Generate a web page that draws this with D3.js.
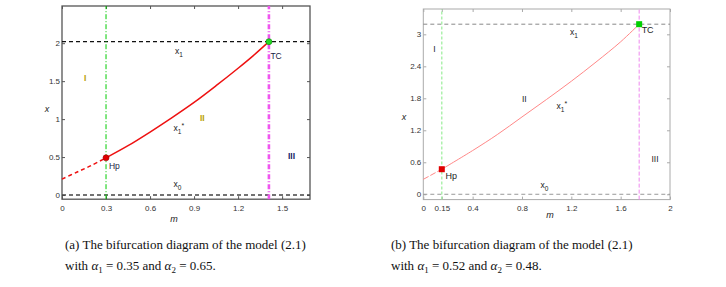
<!DOCTYPE html>
<html>
<head>
<meta charset="utf-8">
<script src="https://cdn.jsdelivr.net/npm/d3@7"></script>
<style>
  body { margin: 0; background: #fff; }
  svg text { font-family: "Liberation Sans", Arial, sans-serif; }
  .cap { font-family: "Liberation Serif", "Times New Roman", serif; font-size: 13px; fill: #111; }
</style>
</head>
<body>
<div id="chart"></div>
<script>
// Panel (a) data
const mA_ticks = [0, 0.3, 0.6, 0.9, 1.2, 1.5];
const xA_ticks = [0, 0.5, 1, 1.5, 2];
const mA_unstable = [0, 0.1, 0.2, 0.3];
const xA_unstable = [0.21, 0.30, 0.39, 0.49];
const mA_stable = [0.3, 0.45, 0.6, 0.75, 0.9, 1.05, 1.2, 1.3, 1.41];
const xA_stable = [0.49, 0.65, 0.83, 1.02, 1.22, 1.44, 1.67, 1.83, 2.02];
const hpA = [0.3, 0.49];
const tcA = [1.41, 2.02];

// Panel (b) data
const mB_ticks = [0, 0.15, 0.4, 0.8, 1.2, 1.6, 2];
const xB_ticks = [0, 0.6, 1.2, 1.8, 2.4, 3];
const mB_unstable = [0, 0.15];
const xB_unstable = [0.28, 0.47];
const mB_stable = [0.15, 0.4, 0.6, 0.8, 1.0, 1.2, 1.4, 1.6, 1.75];
const xB_stable = [0.47, 0.82, 1.12, 1.45, 1.78, 2.12, 2.48, 2.86, 3.19];
const hpB = [0.15, 0.47];
const tcB = [1.75, 3.19];

const W = 726, H = 287;
const svg = d3.select('#chart').append('svg')
    .attr('width', W).attr('height', H);

function drawPanel(cfg) {
    const x = d3.scaleLinear().domain(cfg.xDomain).range(cfg.xRange);
    const y = d3.scaleLinear().domain(cfg.yDomain).range(cfg.yRange);
    const g = svg.append('g');
    const [x0, x1] = cfg.xRange, [y0, y1] = cfg.yRange;

    // frame
    g.append('rect')
        .attr('x', x0).attr('y', y1)
        .attr('width', x1 - x0).attr('height', y0 - y1)
        .attr('fill', 'none')
        .attr('stroke', cfg.frame).attr('stroke-width', cfg.frameW);

    // inward ticks on all sides
    const tl = 3;
    g.append('g').attr('transform', `translate(0,${y0})`)
        .call(d3.axisBottom(x).tickValues(cfg.xTicks).tickSize(-tl).tickPadding(6)
            .tickFormat(d => String(d)))
        .call(a => a.select('.domain').remove());
    g.append('g').attr('transform', `translate(0,${y1})`)
        .call(d3.axisTop(x).tickValues(cfg.xTicks).tickSize(-tl).tickFormat(''))
        .call(a => a.select('.domain').remove());
    g.append('g').attr('transform', `translate(${x0},0)`)
        .call(d3.axisLeft(y).tickValues(cfg.yTicks).tickSize(-tl).tickPadding(2)
            .tickFormat(d => String(d)))
        .call(a => a.select('.domain').remove());
    g.append('g').attr('transform', `translate(${x1},0)`)
        .call(d3.axisRight(y).tickValues(cfg.yTicks).tickSize(-tl).tickFormat(''))
        .call(a => a.select('.domain').remove());
    g.selectAll('.tick line').attr('stroke', cfg.frame);
    g.selectAll('.tick text').attr('font-size', 8).attr('fill', '#333')
        .attr('font-family', '"Liberation Sans", Arial, sans-serif');

    // horizontal equilibria lines
    [[0, cfg.zeroColor, cfg.zeroW], [cfg.tc[1], cfg.topColor, cfg.topW]].forEach(([v, c, w]) => {
        g.append('line')
            .attr('x1', x0).attr('x2', x1)
            .attr('y1', y(v)).attr('y2', y(v))
            .attr('stroke', c).attr('stroke-width', w)
            .attr('stroke-dasharray', '4,3');
    });

    // vertical bifurcation lines
    g.append('line')
        .attr('x1', x(cfg.hp[0])).attr('x2', x(cfg.hp[0]))
        .attr('y1', y0).attr('y2', y1)
        .attr('stroke', cfg.green).attr('stroke-width', cfg.greenW)
        .attr('stroke-dasharray', cfg.greenDash);
    g.append('line')
        .attr('x1', x(cfg.tc[0])).attr('x2', x(cfg.tc[0]))
        .attr('y1', y0).attr('y2', y1)
        .attr('stroke', cfg.magenta).attr('stroke-width', cfg.magentaW)
        .attr('stroke-dasharray', cfg.magentaDash);

    // branch x1*
    const line = d3.line().x(d => x(d[0])).y(d => y(d[1])).curve(d3.curveCatmullRom);
    g.append('path')
        .datum(cfg.mU.map((m, i) => [m, cfg.xU[i]]))
        .attr('d', line).attr('fill', 'none')
        .attr('stroke', cfg.red).attr('stroke-width', cfg.redW)
        .attr('stroke-dasharray', cfg.redDash);
    g.append('path')
        .datum(cfg.mS.map((m, i) => [m, cfg.xS[i]]))
        .attr('d', line).attr('fill', 'none')
        .attr('stroke', cfg.red).attr('stroke-width', cfg.redW);

    // special points
    if (cfg.square) {
        g.append('rect').attr('x', x(cfg.hp[0]) - 3).attr('y', y(cfg.hp[1]) - 3)
            .attr('width', 6).attr('height', 6).attr('fill', '#e00000');
        g.append('rect').attr('x', x(cfg.tc[0]) - 3).attr('y', y(cfg.tc[1]) - 3)
            .attr('width', 6).attr('height', 6).attr('fill', '#00d000');
    } else {
        g.append('circle').attr('cx', x(cfg.hp[0])).attr('cy', y(cfg.hp[1])).attr('r', 3)
            .attr('fill', '#e00000').attr('stroke', '#900').attr('stroke-width', 0.6);
        g.append('circle').attr('cx', x(cfg.tc[0])).attr('cy', y(cfg.tc[1])).attr('r', 3)
            .attr('fill', '#22dd22').attr('stroke', '#080').attr('stroke-width', 0.6);
    }

    // labels
    cfg.labels.forEach(l => {
        const t = g.append('text')
            .attr('x', x(l.m)).attr('y', y(l.v))
            .attr('font-size', l.size || 8.5)
            .attr('fill', l.color || '#222')
            .attr('font-weight', l.bold ? 'bold' : null);
        t.append('tspan').text(l.text);
        if (l.sub) t.append('tspan').attr('dy', 3).attr('font-size', 6.5).text(l.sub);
        if (l.sup) t.append('tspan').attr('dy', -6).attr('font-size', 7).text(l.sup);
    });

    // axis titles
    g.append('text').attr('x', cfg.xTitle[0]).attr('y', cfg.xTitle[1])
        .attr('font-size', 9).attr('font-style', 'italic').attr('fill', '#222')
        .attr('text-anchor', 'middle').text('m');
    g.append('text').attr('x', cfg.yTitle[0]).attr('y', cfg.yTitle[1])
        .attr('font-size', 9).attr('font-style', 'italic').attr('fill', '#222')
        .attr('text-anchor', 'middle').text('x');
}

drawPanel({
    xDomain: [0, 1.69], xRange: [62, 310],
    yDomain: [-0.055, 2.49], yRange: [199.2, 6],
    xTicks: mA_ticks, yTicks: xA_ticks,
    frame: '#555', frameW: 1.3,
    zeroColor: '#444', zeroW: 1.6, topColor: '#111', topW: 1.2,
    green: '#00cc00', greenW: 1, greenDash: '5,2,1,2',
    magenta: '#ee55ee', magentaW: 2.6, magentaDash: '5,2,1,2',
    red: '#ee1111', redW: 1.5, redDash: '4,3',
    mU: mA_unstable, xU: xA_unstable, mS: mA_stable, xS: xA_stable,
    hp: hpA, tc: tcA, square: false,
    labels: [
        {m: 0.77, v: 1.86, text: 'x', sub: '1'},
        {m: 0.15, v: 1.5, text: 'I', color: '#b8a000', bold: true},
        {m: 0.94, v: 0.97, text: 'II', color: '#b8a000', bold: true},
        {m: 1.54, v: 0.47, text: 'III', color: '#1a1a66', bold: true},
        {m: 0.76, v: 0.84, text: 'x', sub: '1', sup: '*'},
        {m: 0.76, v: 0.11, text: 'x', sub: '0'},
        {m: 0.32, v: 0.34, text: 'Hp', color: '#1a1a44'},
        {m: 1.42, v: 1.79, text: 'TC', color: '#1a1a44'}
    ],
    xTitle: [174, 222], yTitle: [47, 112]
});

drawPanel({
    xDomain: [0, 2], xRange: [423.3, 670],
    yDomain: [-0.1, 3.475], yRange: [199.6, 9],
    xTicks: mB_ticks, yTicks: xB_ticks,
    frame: '#aaa', frameW: 1,
    zeroColor: '#999', zeroW: 1, topColor: '#888', topW: 1,
    green: '#99ee99', greenW: 1.2, greenDash: '3,2',
    magenta: '#ee88ee', magentaW: 1, magentaDash: '4,2',
    red: '#ff8888', redW: 1, redDash: '6,2',
    mU: mB_unstable, xU: xB_unstable, mS: mB_stable, xS: xB_stable,
    hp: hpB, tc: tcB, square: true,
    labels: [
        {m: 1.19, v: 2.98, text: 'x', sub: '1'},
        {m: 0.08, v: 2.66, text: 'I'},
        {m: 0.8, v: 1.73, text: 'II'},
        {m: 1.85, v: 0.61, text: 'III'},
        {m: 1.08, v: 1.6, text: 'x', sub: '1', sup: '*'},
        {m: 0.95, v: 0.12, text: 'x', sub: '0'},
        {m: 0.18, v: 0.29, text: 'Hp', size: 9},
        {m: 1.77, v: 3.02, text: 'TC', size: 9}
    ],
    xTitle: [550, 218], yTitle: [404, 120]
});

// captions
function caption(x0, yy, letter, a1, a2) {
    svg.append('text').attr('class', 'cap').attr('x', x0).attr('y', yy)
        .text(`(${letter}) The bifurcation diagram of the model (2.1)`);
    const t = svg.append('text').attr('class', 'cap').attr('x', x0).attr('y', yy + 21);
    t.append('tspan').text('with ');
    t.append('tspan').attr('font-style', 'italic').text('α');
    t.append('tspan').attr('dy', 3).attr('font-size', 9).text('1');
    t.append('tspan').attr('dy', -3).text(` = ${a1} and `);
    t.append('tspan').attr('font-style', 'italic').text('α');
    t.append('tspan').attr('dy', 3).attr('font-size', 9).text('2');
    t.append('tspan').attr('dy', -3).text(` = ${a2}.`);
}
caption(65, 249, 'a', '0.35', '0.65');
caption(391, 249, 'b', '0.52', '0.48');
</script>
</body>
</html>
